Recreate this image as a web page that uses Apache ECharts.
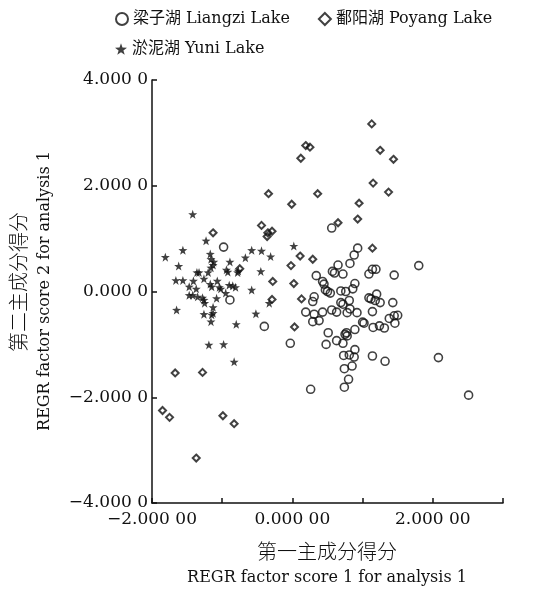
<!DOCTYPE html>
<html>
<head>
<meta charset="utf-8">
<script src="https://cdn.jsdelivr.net/npm/echarts@6/dist/echarts.min.js"></script>
<style>
  html, body { margin: 0; padding: 0; background: #fff; }
  #chart { width: 554px; height: 590px; }
</style>
</head>
<body>
<div id="chart"></div>
<script>
// Liangzi Lake (open circles): [factor score 1, factor score 2]
const liangzi = [
  [-0.98, 0.84], [-0.89, -0.16], [-0.40, -0.66], [-0.03, -0.98], [0.26, -1.85],
  [0.56, 1.20], [0.93, 0.82], [0.88, 0.69], [0.82, 0.53], [0.65, 0.50],
  [1.80, 0.49], [0.57, 0.38], [0.60, 0.35], [0.72, 0.33], [0.34, 0.30],
  [1.14, 0.42], [1.19, 0.42], [1.09, 0.33], [1.45, 0.31], [0.43, 0.19],
  [0.45, 0.14], [0.89, 0.15], [0.86, 0.05], [0.47, 0.03], [0.50, 0.00],
  [0.54, -0.03], [0.69, 0.01], [0.76, 0.00], [0.31, -0.10], [0.29, -0.19],
  [1.09, -0.12], [1.12, -0.14], [1.20, -0.05], [1.18, -0.17], [1.25, -0.21],
  [1.43, -0.21], [0.69, -0.21], [0.72, -0.24], [0.81, -0.17], [0.82, -0.33],
  [0.56, -0.35], [0.19, -0.39], [0.92, -0.40], [0.43, -0.39], [0.38, -0.55],
  [0.29, -0.57], [0.63, -0.39], [0.78, -0.40], [1.14, -0.38], [1.38, -0.51],
  [1.45, -0.46], [1.50, -0.45], [1.46, -0.60], [1.00, -0.58], [1.02, -0.60],
  [1.15, -0.68], [1.24, -0.65], [1.31, -0.69], [0.89, -0.72], [0.77, -0.78],
  [0.75, -0.81], [0.78, -0.84], [0.51, -0.78], [0.48, -1.00], [0.63, -0.93],
  [0.72, -0.98], [0.73, -1.21], [0.81, -1.20], [0.88, -1.24], [0.89, -1.10],
  [1.14, -1.22], [1.32, -1.32], [2.08, -1.25], [0.74, -1.46], [0.85, -1.41],
  [0.80, -1.66], [0.74, -1.81], [2.51, -1.96], [0.31, -0.43]
];

// Poyang Lake (diamonds)
const poyang = [
  [1.13, 3.17], [0.19, 2.76], [0.25, 2.73], [0.12, 2.52], [1.25, 2.67],
  [1.44, 2.50], [1.15, 2.05], [1.37, 1.88], [0.36, 1.85], [-0.34, 1.85],
  [-0.01, 1.65], [0.95, 1.67], [0.65, 1.30], [0.93, 1.37], [-0.44, 1.25],
  [-0.35, 1.11], [-0.29, 1.14], [-0.36, 1.04], [-1.13, 1.11], [1.14, 0.82],
  [0.11, 0.67], [0.29, 0.61], [-0.02, 0.49], [-0.75, 0.43], [-0.28, 0.19],
  [0.02, 0.15], [-0.29, -0.15], [0.13, -0.14], [0.03, -0.67], [-1.67, -1.54],
  [-1.28, -1.53], [-1.85, -2.25], [-1.75, -2.38], [-0.99, -2.35], [-0.83, -2.50],
  [-1.37, -3.15]
];

// Yuni Lake (stars)
const yuni = [
  [-1.42, 1.46], [-1.23, 0.96], [-1.56, 0.78], [-1.81, 0.65], [0.02, 0.86],
  [-0.58, 0.78], [-0.44, 0.77], [-0.67, 0.64], [-0.31, 0.66], [-1.17, 0.71],
  [-1.16, 0.61], [-1.12, 0.56], [-1.13, 0.50], [-1.16, 0.45], [-0.89, 0.56],
  [-1.62, 0.48], [-1.36, 0.36], [-1.33, 0.36], [-1.20, 0.36], [-0.94, 0.41],
  [-0.92, 0.37], [-0.78, 0.36], [-0.77, 0.39], [-0.45, 0.38], [-1.26, 0.24],
  [-1.66, 0.21], [-1.56, 0.21], [-1.41, 0.20], [-1.07, 0.20], [-1.17, 0.14],
  [-1.15, 0.09], [-1.47, 0.09], [-1.37, 0.05], [-1.04, 0.08], [-1.02, 0.05],
  [-0.90, 0.12], [-0.85, 0.11], [-0.81, 0.08], [-0.58, 0.03], [-0.95, -0.03],
  [-1.47, -0.07], [-1.42, -0.07], [-1.35, -0.10], [-1.28, -0.12], [-1.26, -0.16],
  [-1.25, -0.22], [-1.08, -0.13], [-0.33, -0.22], [-1.13, -0.30], [-1.13, -0.41],
  [-1.15, -0.44], [-1.65, -0.35], [-1.26, -0.43], [-0.52, -0.42], [-1.16, -0.57],
  [-0.80, -0.62], [-1.19, -1.01], [-0.98, -1.00], [-0.83, -1.33]
];

const seriesNames = ['梁子湖 Liangzi Lake', '鄱阳湖 Poyang Lake', '淤泥湖 Yuni Lake'];
const xTitle = ['第一主成分得分', 'REGR factor score 1 for analysis 1'];
const yTitle = ['第二主成分得分', 'REGR factor score 2 for analysis 1'];

const serif = '"DejaVu Serif", "Liberation Serif", "Noto Sans CJK SC", serif';
const cjk = '"Noto Sans CJK SC", sans-serif';
const ink = '#111';
const starPath = 'path://M0,-10 L2.35,-3.24 L9.51,-3.09 L3.8,1.24 L5.88,8.09 L0,4 L-5.88,8.09 L-3.8,1.24 L-9.51,-3.09 L-2.35,-3.24 Z';

function fmt(v, digits, split) {
  const s = Math.abs(v).toFixed(digits);
  const cut = s.length - split;
  return (v < 0 ? '\u2212' : '') + s.slice(0, cut) + ' ' + s.slice(cut);
}

const chart = echarts.init(document.getElementById('chart'));

const legendText = { fontFamily: serif, fontSize: 16, color: ink };

const option = {
  animation: false,
  backgroundColor: '#fff',
  textStyle: { fontFamily: serif, color: ink },
  legend: [
    {
      data: [seriesNames[0], seriesNames[1]],
      left: 110,
      top: 6,
      itemGap: 28,
      itemWidth: 12,
      itemHeight: 12,
      textStyle: legendText
    },
    {
      data: [seriesNames[2]],
      left: 110,
      top: 36,
      itemWidth: 12,
      itemHeight: 12,
      textStyle: legendText
    }
  ],
  grid: { left: 152, right: 51, top: 80, bottom: 87 },
  xAxis: {
    type: 'value',
    min: -2,
    max: 3,
    interval: 1,
    axisLine: { onZero: false, lineStyle: { color: ink, width: 1.5 } },
    axisTick: { inside: true, length: 5, lineStyle: { color: ink, width: 1.5 } },
    axisLabel: {
      color: ink,
      fontFamily: serif,
      fontSize: 17,
      margin: 8,
      formatter: v => (Math.round(v) % 2 === 0 ? fmt(v, 5, 2) : '')
    },
    splitLine: { show: false }
  },
  yAxis: {
    type: 'value',
    min: -4,
    max: 4,
    interval: 2,
    axisLine: { onZero: false, lineStyle: { color: ink, width: 1.5 } },
    axisTick: { inside: true, length: 5, lineStyle: { color: ink, width: 1.5 } },
    axisLabel: {
      color: ink,
      fontFamily: serif,
      fontSize: 17,
      margin: 4,
      formatter: v => fmt(v, 4, 1)
    },
    splitLine: { show: false }
  },
  graphic: [
    { type: 'text', x: 327, y: 551, style: { text: xTitle[0], fill: ink, font: '300 20px ' + cjk, textAlign: 'center', textVerticalAlign: 'middle' } },
    { type: 'text', x: 327, y: 578, style: { text: xTitle[1], fill: ink, font: '16px ' + serif, textAlign: 'center', textVerticalAlign: 'middle' } },
    { type: 'text', x: 18, y: 282, rotation: Math.PI / 2, style: { text: yTitle[0], fill: ink, font: '300 20px ' + cjk, textAlign: 'center', textVerticalAlign: 'middle' } },
    { type: 'text', x: 45, y: 291, rotation: Math.PI / 2, style: { text: yTitle[1], fill: ink, font: '16px ' + serif, textAlign: 'center', textVerticalAlign: 'middle' } }
  ],
  series: [
    {
      name: seriesNames[0],
      type: 'scatter',
      data: liangzi,
      symbol: 'circle',
      symbolSize: 8,
      itemStyle: { color: 'rgba(255,255,255,0)', borderColor: ink, borderWidth: 1.6 }
    },
    {
      name: seriesNames[1],
      type: 'scatter',
      data: poyang,
      symbol: 'diamond',
      symbolSize: 7,
      itemStyle: { color: 'rgba(255,255,255,0)', borderColor: ink, borderWidth: 2 }
    },
    {
      name: seriesNames[2],
      type: 'scatter',
      data: yuni,
      symbol: starPath,
      symbolSize: 9,
      itemStyle: { color: ink, borderWidth: 0 }
    }
  ]
};

chart.setOption(option);
</script>
</body>
</html>
